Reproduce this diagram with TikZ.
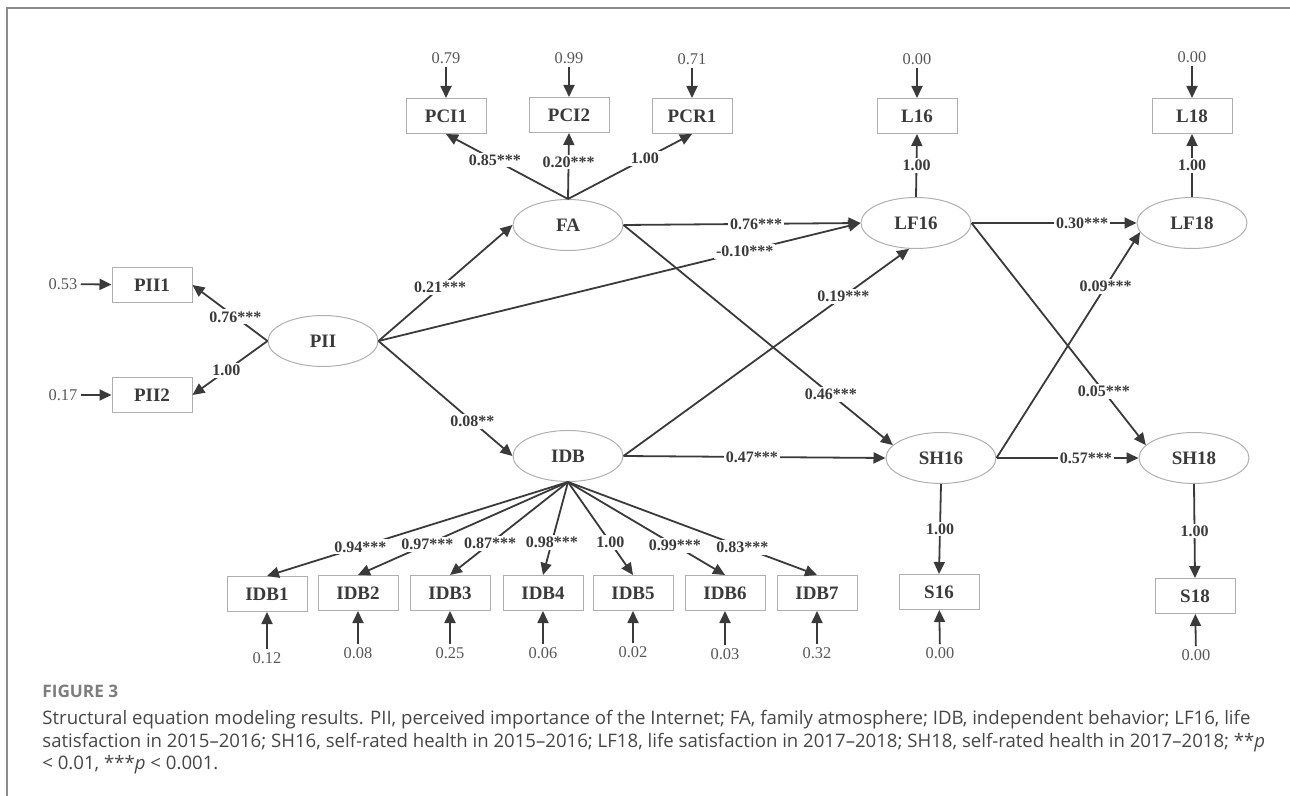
\documentclass[tikz,border=0pt]{standalone}
\usepackage{fontspec}
\setmainfont{Liberation Serif}
\newfontfamily\capfont{Open Sans}
\usetikzlibrary{shapes.geometric,arrows.meta}
\definecolor{dgr}{RGB}{58,58,58}
\definecolor{lgr}{RGB}{175,175,175}
\definecolor{frm}{RGB}{140,140,140}
\definecolor{capc}{RGB}{70,70,70}
\definecolor{figc}{RGB}{125,125,125}
\tikzset{
  obs/.style={draw=lgr, line width=0.5pt, minimum width=40pt, minimum height=17.5pt, inner sep=0pt, font=\bfseries\fontsize{9.5}{11}\selectfont, text=dgr},
  lat/.style={ellipse, draw=lgr, line width=0.5pt, minimum width=55pt, minimum height=25.5pt, inner sep=0pt, font=\bfseries\fontsize{9.5}{11}\selectfont, text=dgr},
  err/.style={inner sep=1.5pt, font=\fontsize{8.2}{9}\selectfont, text=dgr!85},
  coef/.style={fill=white, inner sep=1pt, font=\bfseries\fontsize{8}{9}\selectfont, text=dgr},
  arr/.style={draw=dgr, line width=0.9pt, -{Triangle[length=6pt,width=5.5pt]}}
}

\begin{document}
\begin{tikzpicture}[x=0.5pt,y=-0.5pt]
    \useasboundingbox (0,0) rectangle (1290,796);
    \draw[frm, line width=0.8pt] (7,796) -- (7,8) -- (1290,8);

    \node[lat] (PII) at (323,341) {PII};
    \node[lat] (FA) at (568,225) {FA};
    \node[lat] (IDB) at (568,456) {IDB};
    \node[lat] (LF16) at (916,223) {LF16};
    \node[lat] (LF18) at (1192,223) {LF18};
    \node[lat] (SH16) at (941,458) {SH16};
    \node[lat] (SH18) at (1194,458) {SH18};

    \node[obs] (PII1) at (152,285) {PII1};
    \node[obs] (PII2) at (152,395) {PII2};
    \node[err] (ePII1) at (63,284) {0.53};
    \node[err] (ePII2) at (63,395) {0.17};
    \draw[arr] (ePII1) -- (PII1);
    \draw[arr] (ePII2) -- (PII2);

    \node[obs] (PCI1) at (446,116) {PCI1};
    \node[obs] (PCI2) at (569,115) {PCI2};
    \node[obs] (PCR1) at (692,116) {PCR1};
    \node[obs] (L16) at (917,116) {L16};
    \node[obs] (L18) at (1192,116) {L18};
    \node[err] (ePCI1) at (446,58) {0.79};
    \node[err] (ePCI2) at (569,58) {0.99};
    \node[err] (ePCR1) at (692,59) {0.71};
    \node[err] (eL16) at (917,59) {0.00};
    \node[err] (eL18) at (1192,57) {0.00};
    \draw[arr] (ePCI1) -- (PCI1);
    \draw[arr] (ePCI2) -- (PCI2);
    \draw[arr] (ePCR1) -- (PCR1);
    \draw[arr] (eL16) -- (L16);
    \draw[arr] (eL18) -- (L18);

    \node[obs] (IDB1) at (267,594) {IDB1};
    \node[obs] (IDB2) at (358,593) {IDB2};
    \node[obs] (IDB3) at (450,593) {IDB3};
    \node[obs] (IDB4) at (543,593) {IDB4};
    \node[obs] (IDB5) at (633,593) {IDB5};
    \node[obs] (IDB6) at (725,593) {IDB6};
    \node[obs] (IDB7) at (817,593) {IDB7};
    \node[obs] (S16) at (939,592) {S16};
    \node[obs] (S18) at (1195,596) {S18};
    \node[err] (eIDB1) at (267,658) {0.12};
    \node[err] (eIDB2) at (358,653) {0.08};
    \node[err] (eIDB3) at (450,653) {0.25};
    \node[err] (eIDB4) at (543,653) {0.06};
    \node[err] (eIDB5) at (633,652) {0.02};
    \node[err] (eIDB6) at (725,654) {0.03};
    \node[err] (eIDB7) at (817,653) {0.32};
    \node[err] (eS16) at (940,653) {0.00};
    \node[err] (eS18) at (1196,655) {0.00};
    \draw[arr] (eIDB1) -- (IDB1);
    \draw[arr] (eIDB2) -- (IDB2);
    \draw[arr] (eIDB3) -- (IDB3);
    \draw[arr] (eIDB4) -- (IDB4);
    \draw[arr] (eIDB5) -- (IDB5);
    \draw[arr] (eIDB6) -- (IDB6);
    \draw[arr] (eIDB7) -- (IDB7);
    \draw[arr] (eS16) -- (S16);
    \draw[arr] (eS18) -- (S18);

    \draw[arr] (PII.west) -- node[coef,pos=0.43] {0.76***} (PII1.east);
    \draw[arr] (PII.west) -- node[coef,pos=0.55] {1.00} (PII2.east);
    \draw[arr] (FA.north) -- node[coef,pos=0.6] {0.85***} (PCI1.south);
    \draw[arr] (FA.north) -- node[coef,pos=0.56] {0.20***} (PCI2.south);
    \draw[arr] (FA.north) -- node[coef,pos=0.62] {1.00} (PCR1.south);
    \draw[arr] (LF16.north) -- node[coef,pos=0.5] {1.00} (L16.south);
    \draw[arr] (LF18.north) -- node[coef,pos=0.5] {1.00} (L18.south);
    \draw[arr] (SH16.south) -- node[coef,pos=0.5] {1.00} (S16.north);
    \draw[arr] (SH18.south) -- node[coef,pos=0.5] {1.00} (S18.north);

    \draw[arr] (IDB.south) -- node[coef,pos=0.69] {0.94***} (IDB1.north);
    \draw[arr] (IDB.south) -- node[coef,pos=0.67] {0.97***} (IDB2.north);
    \draw[arr] (IDB.south) -- node[coef,pos=0.66] {0.87***} (IDB3.north);
    \draw[arr] (IDB.south) -- node[coef,pos=0.65] {0.98***} (IDB4.north);
    \draw[arr] (IDB.south) -- node[coef,pos=0.65] {1.00} (IDB5.north);
    \draw[arr] (IDB.south) -- node[coef,pos=0.68] {0.99***} (IDB6.north);
    \draw[arr] (IDB.south) -- node[coef,pos=0.7] {0.83***} (IDB7.north);

    \draw[arr] (PII.east) -- node[coef,pos=0.46] {0.21***} (FA.west);
    \draw[arr] (PII.east) -- node[coef,pos=0.7] {0.08**} (IDB.west);
    \draw[arr] (PII.east) -- node[coef,pos=0.76] {-0.10***} (LF16.west);
    \draw[arr] (FA.east) -- node[coef,pos=0.56] {0.76***} (LF16.west);
    \draw[arr] (FA.east) -- node[coef,pos=0.77] {0.46***} (SH16.165);
    \draw[arr] (IDB.east) -- node[coef,pos=0.77] {0.19***} (LF16.-105);
    \draw[arr] (IDB.east) -- node[coef,pos=0.49] {0.47***} (SH16.west);
    \draw[arr] (LF16.east) -- node[coef,pos=0.67] {0.30***} (LF18.west);
    \draw[arr] (LF16.east) -- node[coef,pos=0.76] {0.05***} (SH18.165);
    \draw[arr] (SH16.east) -- node[coef,pos=0.76] {0.09***} (LF18.190);
    \draw[arr] (SH16.east) -- node[coef,pos=0.63] {0.57***} (SH18.west);

    \node[anchor=base west, inner sep=0pt, text=figc, font=\capfont\bfseries\fontsize{8.6}{10}\selectfont] (fig) at (42,697) {FIGURE 3};
    \node[anchor=north west, inner sep=0pt, align=left, text=capc, font=\capfont\fontsize{9.3}{11.2}\selectfont] (cap) at (42,710) {Structural equation modeling results. PII, perceived importance of the Internet; FA, family atmosphere; IDB, independent behavior; LF16, life\\satisfaction in 2015–2016; SH16, self-rated health in 2015–2016; LF18, life satisfaction in 2017–2018; SH18, self-rated health in 2017–2018; **\textit{p}\\< 0.01, ***\textit{p} < 0.001.};
\end{tikzpicture}
\end{document}
